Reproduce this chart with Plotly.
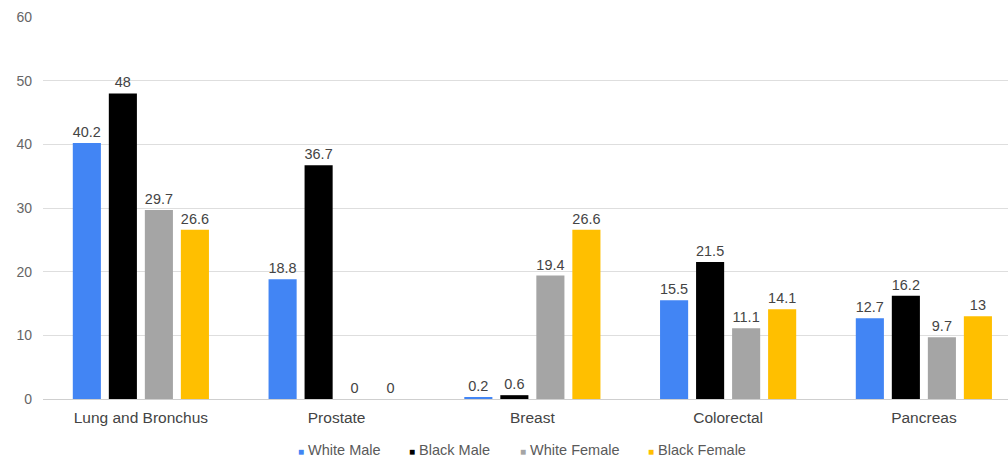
import plotly.graph_objects as go

categories = ["Lung and Bronchus", "Prostate", "Breast", "Colorectal", "Pancreas"]
series_names = ["White Male", "Black Male", "White Female", "Black Female"]
white_male = [40.2, 18.8, 0.2, 15.5, 12.7]
black_male = [48, 36.7, 0.6, 21.5, 16.2]
white_female = [29.7, 0, 19.4, 11.1, 9.7]
black_female = [26.6, 0, 26.6, 14.1, 13]
y_ticks = [0, 10, 20, 30, 40, 50, 60]

colors = ["#4285F4", "#000000", "#A5A5A5", "#FFBF00"]
values = [white_male, black_male, white_female, black_female]

fig = go.Figure()
for name, vals, c in zip(series_names, values, colors):
    fig.add_trace(go.Bar(
        x=categories, y=vals, name=name,
        marker=dict(color=c, line=dict(width=0)),
        text=[f"{v:g}" for v in vals], textposition="outside",
        textfont=dict(family="Liberation Sans, Arial", size=14.5, color="#444444"),
        cliponaxis=False, showlegend=False,
    ))

W, H = 1008, 458
ml, mr, mt, mb = 43, 0, 17, 59
plot_w = W - ml - mr
plot_h = H - mt - mb
cat_px = 195.75
x_max = -0.5 + plot_w / cat_px

# legend drawn as text items under the chart
legend_x_px = [296, 407, 518, 646]
for name, c, px in zip(series_names, colors, legend_x_px):
    fig.add_annotation(
        x=(px - ml) / plot_w, y=-(450 - (H - mb)) / plot_h,
        xref="paper", yref="paper", xanchor="left", yanchor="middle",
        text=f"<span style='color:{c};font-size:10px'>■</span> {name}",
        showarrow=False,
        font=dict(family="Liberation Sans, Arial", size=14.5, color="#5a5a5a"),
    )

fig.update_layout(
    width=W, height=H,
    margin=dict(l=ml, r=mr, t=mt, b=mb),
    paper_bgcolor="white", plot_bgcolor="white",
    barmode="group", bargap=0.264, bargroupgap=0.22,
    showlegend=False,
    font=dict(family="Liberation Sans, Arial", size=14, color="#555555"),
    xaxis=dict(range=[-0.5, x_max], showgrid=False, showline=False, zeroline=False,
               ticks="", ticklabelstandoff=7,
               tickfont=dict(size=15.5, color="#444444")),
    yaxis=dict(range=[0, 60], tickvals=y_ticks, showgrid=True, gridcolor="#dedede",
               gridwidth=1, zeroline=True, zerolinecolor="#cfcfcf", zerolinewidth=1,
               showline=False, ticks="", ticklabelstandoff=10,
               tickfont=dict(size=14, color="#666666")),
)

fig.write_html("out.html")
